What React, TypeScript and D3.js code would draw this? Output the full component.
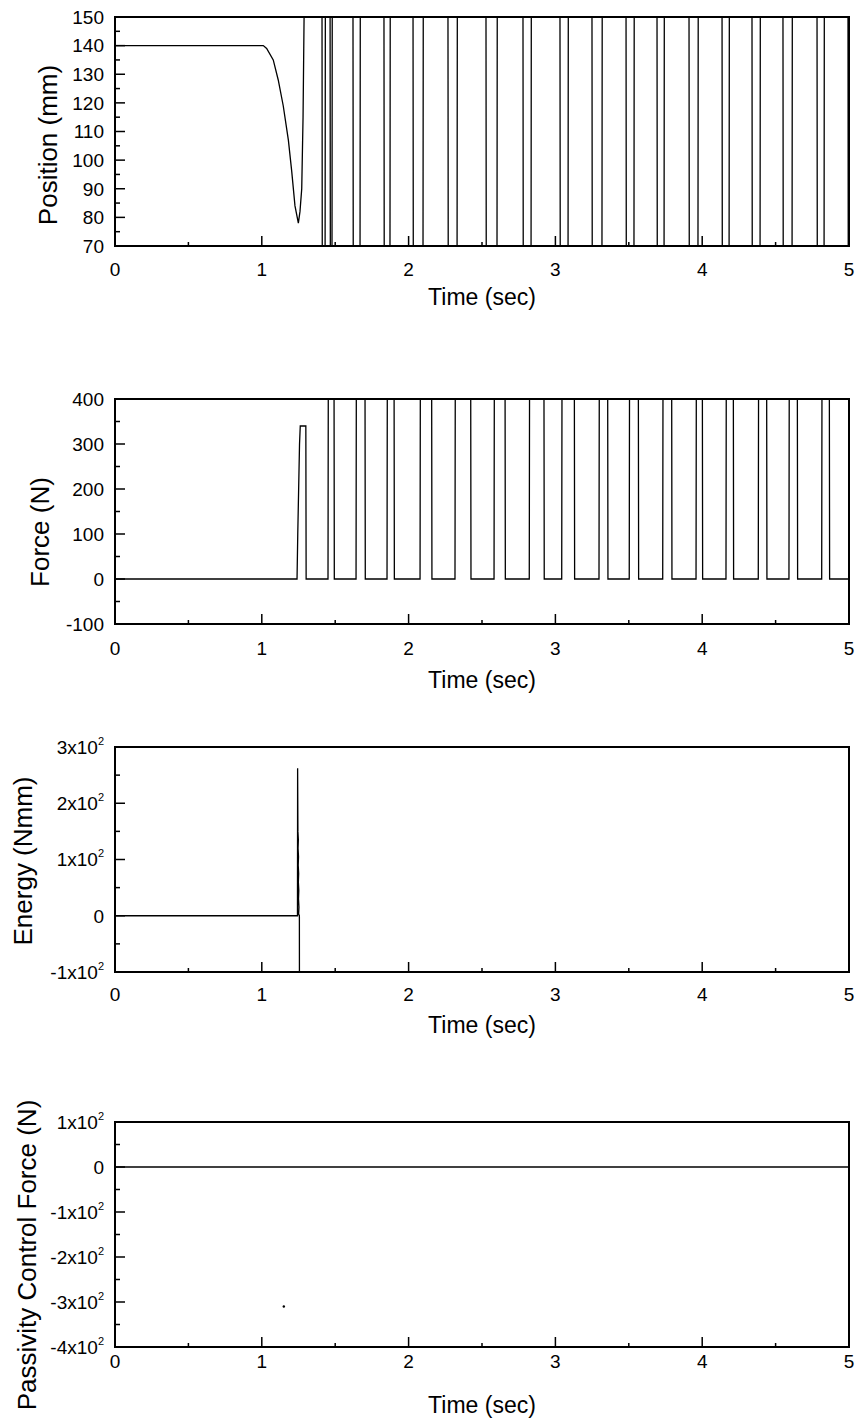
import React from "react";
import * as d3 from "d3";

// ---------- data ----------
const TIME_MAJOR = [0, 1, 2, 3, 4, 5];
const TIME_MINOR = [0.5, 1.5, 2.5, 3.5, 4.5];

const POSITION_TICKS = [70, 80, 90, 100, 110, 120, 130, 140, 150];
const FORCE_TICKS = [-100, 0, 100, 200, 300, 400];
const ENERGY_TICKS = [-100, 0, 100, 200, 300];
const PASSIVITY_TICKS = [-400, -300, -200, -100, 0, 100];

// Position (mm): free approach, dip, then rapid clipped oscillation
const positionApproach: [number, number][] = [
  [0, 140], [1.0, 140], [1.01, 140], [1.033, 139], [1.078, 135], [1.112, 128],
  [1.146, 119], [1.181, 107], [1.204, 96], [1.226, 84], [1.249, 78], [1.26, 82],
  [1.272, 90], [1.281, 115], [1.288, 150], [1.3, 160],
];
// intervals (start, end) during which position is below the 70 mm floor
const positionLowIntervals: [number, number][] = [
  [1.41, 1.431], [1.465, 1.478], [1.621, 1.669], [1.832, 1.873], [2.03, 2.098],
  [2.268, 2.33], [2.527, 2.602], [2.779, 2.834], [3.031, 3.086], [3.249, 3.317],
  [3.481, 3.535], [3.692, 3.74], [3.91, 3.971], [4.135, 4.183], [4.339, 4.394],
  [4.55, 4.612], [4.782, 4.83], [4.993, 5.1],
];

// Force (N)
const forceContact: [number, number][] = [
  [0, 0], [1.24, 0], [1.245, 100], [1.257, 300], [1.262, 340], [1.3, 340], [1.302, 0],
];
// intervals during which the force exceeds the 400 N ceiling
const forceHighIntervals: [number, number][] = [
  [1.451, 1.492], [1.642, 1.703], [1.853, 1.901], [2.078, 2.157], [2.316, 2.423],
  [2.582, 2.657], [2.822, 2.922], [3.043, 3.129], [3.297, 3.356], [3.503, 3.565],
  [3.731, 3.792], [3.958, 4.001], [4.162, 4.212], [4.382, 4.439], [4.591, 4.648],
  [4.814, 4.866],
];

// Energy (Nmm)
const energyTrace: [number, number][] = [
  [0, 0], [1.243, 0], [1.244, 262], [1.246, 150], [1.249, 135], [1.247, 120],
  [1.25, 105], [1.248, 90], [1.251, 75], [1.249, 60], [1.252, 45], [1.25, 30],
  [1.253, 15], [1.251, 3], [1.256, 0], [1.257, -250], [5, -250],
];

// Passivity control force (N)
const passivityTrace: [number, number][] = [[0, 0], [5, 0]];
const passivitySpeck: [number, number][] = [[1.15, -310]];

// ---------- helpers ----------
function withPulses(
  start: [number, number][],
  intervals: [number, number][],
  base: number,
  pulse: number,
  end: number
): [number, number][] {
  const pts: [number, number][] = [...start];
  for (const [a, b] of intervals) {
    pts.push([a, base], [a + 0.002, pulse], [b, pulse], [b + 0.002, base]);
  }
  pts.push([end, base]);
  return pts;
}

const positionSeries = withPulses(positionApproach, positionLowIntervals, 160, 60, 5.2);
const forceSeries = withPulses(forceContact, forceHighIntervals, 0, 450, 5);

const LEFT = 115;
const RIGHT = 849;
const FONT = "'Liberation Sans', Arial, Helvetica, sans-serif";

type PanelProps = {
  id: string;
  top: number;
  bottom: number;
  domain: [number, number];
  ticks: number[];
  minorStep: number;
  sci: boolean;
  data: [number, number][];
  dots?: [number, number][];
  yTitle: string;
  yTitleX: number;
  yTitleY: number;
  tickBaseline: number;
  titleBaseline: number;
};

function TickLabel({ v, sci, x, y }: { v: number; sci: boolean; x: number; y: number }) {
  if (!sci || v === 0) {
    return (
      <text x={x} y={y} dy="0.36em" textAnchor="end" fontSize={19}>
        {String(v)}
      </text>
    );
  }
  const m = v / 100;
  return (
    <text x={x} y={y} dy="0.36em" textAnchor="end" fontSize={19}>
      <tspan>{`${m}x10`}</tspan>
      <tspan fontSize={11} dy={-9}>2</tspan>
    </text>
  );
}

function Panel(p: PanelProps) {
  const x = d3.scaleLinear().domain([0, 5]).range([LEFT, RIGHT]);
  const y = d3.scaleLinear().domain(p.domain).range([p.bottom, p.top]);
  const line = d3
    .line<[number, number]>()
    .x((d) => x(d[0]))
    .y((d) => y(d[1]));
  const minor = d3.range(p.domain[0], p.domain[1] + 1e-9, p.minorStep).filter(
    (v) => !p.ticks.includes(v)
  );
  return (
    <g>
      <defs>
        <clipPath id={p.id}>
          <rect x={LEFT} y={p.top} width={RIGHT - LEFT} height={p.bottom - p.top} />
        </clipPath>
      </defs>
      <g clipPath={`url(#${p.id})`}>
        <path d={line(p.data) || ""} fill="none" stroke="#000" strokeWidth={1.3} />
        {(p.dots || []).map((d, i) => (
          <circle key={i} cx={x(d[0])} cy={y(d[1])} r={1.2} fill="#000" />
        ))}
      </g>
      <rect
        x={LEFT}
        y={p.top}
        width={RIGHT - LEFT}
        height={p.bottom - p.top}
        fill="none"
        stroke="#000"
        strokeWidth={2}
      />
      {/* y ticks (inward) */}
      {p.ticks.map((v) => (
        <line key={"ym" + v} x1={LEFT} x2={LEFT + 10} y1={y(v)} y2={y(v)} stroke="#000" strokeWidth={1.5} />
      ))}
      {minor.map((v) => (
        <line key={"yn" + v} x1={LEFT} x2={LEFT + 5} y1={y(v)} y2={y(v)} stroke="#000" strokeWidth={1.5} />
      ))}
      {/* x ticks (inward) */}
      {TIME_MAJOR.map((t) => (
        <line key={"xm" + t} x1={x(t)} x2={x(t)} y1={p.bottom} y2={p.bottom - 10} stroke="#000" strokeWidth={1.5} />
      ))}
      {TIME_MINOR.map((t) => (
        <line key={"xn" + t} x1={x(t)} x2={x(t)} y1={p.bottom} y2={p.bottom - 4} stroke="#000" strokeWidth={1.5} />
      ))}
      {p.ticks.map((v) => (
        <TickLabel key={"yl" + v} v={v} sci={p.sci} x={LEFT - 11} y={y(v)} />
      ))}
      {TIME_MAJOR.map((t) => (
        <text key={"xl" + t} x={x(t)} y={p.tickBaseline} textAnchor="middle" fontSize={19}>
          {String(t)}
        </text>
      ))}
      <text
        x={(LEFT + RIGHT) / 2}
        y={p.titleBaseline}
        textAnchor="middle"
        fontSize={23}
      >
        Time (sec)
      </text>
      <text
        transform={`translate(${p.yTitleX},${p.yTitleY}) rotate(-90)`}
        textAnchor="middle"
        dy="0.35em"
        fontSize={26}
      >
        {p.yTitle}
      </text>
    </g>
  );
}

export default function App() {
  return (
    <svg
      width={858}
      height={1426}
      viewBox="0 0 858 1426"
      style={{ position: "absolute", left: 0, top: 0, background: "#fff" }}
      fontFamily={FONT}
      fill="#000"
    >
      <rect x={0} y={0} width={858} height={1426} fill="#fff" />
      <Panel
        id="c1"
        top={17}
        bottom={246}
        domain={[70, 150]}
        ticks={POSITION_TICKS}
        minorStep={5}
        sci={false}
        data={positionSeries}
        yTitle="Position (mm)"
        yTitleX={48}
        yTitleY={145}
        tickBaseline={276}
        titleBaseline={305}
      />
      <Panel
        id="c2"
        top={399}
        bottom={624}
        domain={[-100, 400]}
        ticks={FORCE_TICKS}
        minorStep={50}
        sci={false}
        data={forceSeries}
        yTitle="Force (N)"
        yTitleX={40}
        yTitleY={532}
        tickBaseline={655}
        titleBaseline={688}
      />
      <Panel
        id="c3"
        top={747}
        bottom={972}
        domain={[-100, 300]}
        ticks={ENERGY_TICKS}
        minorStep={50}
        sci={true}
        data={energyTrace}
        yTitle="Energy (Nmm)"
        yTitleX={23}
        yTitleY={861}
        tickBaseline={1001}
        titleBaseline={1033}
      />
      <Panel
        id="c4"
        top={1122}
        bottom={1347}
        domain={[-400, 100]}
        ticks={PASSIVITY_TICKS}
        minorStep={50}
        sci={true}
        data={passivityTrace}
        dots={passivitySpeck}
        yTitle="Passivity Control Force (N)"
        yTitleX={27}
        yTitleY={1255}
        tickBaseline={1368}
        titleBaseline={1413}
      />
    </svg>
  );
}
